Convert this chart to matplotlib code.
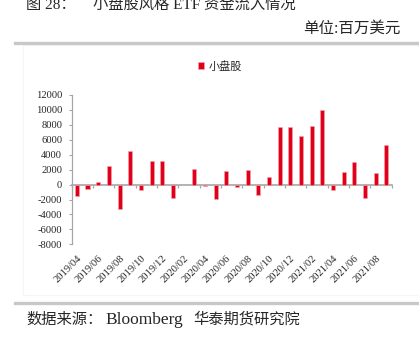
import matplotlib
matplotlib.use("Agg")
import matplotlib.pyplot as plt
from matplotlib.patches import Rectangle
from matplotlib.lines import Line2D

# ---- data ----
months = ["2019/04", "2019/05", "2019/06", "2019/07", "2019/08", "2019/09",
          "2019/10", "2019/11", "2019/12", "2020/01", "2020/02", "2020/03",
          "2020/04", "2020/05", "2020/06", "2020/07", "2020/08", "2020/09",
          "2020/10", "2020/11", "2020/12", "2021/01", "2021/02", "2021/03",
          "2021/04", "2021/05", "2021/06", "2021/07", "2021/08", "2021/09"]
small_cap = [-1470, -580, 400, 2540, -3260, 4550, -760, 3170, 3170, -1740,
             -50, 2100, -180, -1920, 1790, -330, 2010, -1430, 1070, 7770,
             7770, 6560, 7900, 10040, -710, 1650, 3080, -1790, 1560, 5310]
series_name = "小盘股"
y_ticks = [-8000, -6000, -4000, -2000, 0, 2000, 4000, 6000, 8000, 10000, 12000]
title_no = "图 28："
title = "小盘股风格 ETF 资金流入情况"
unit = "单位:百万美元"
source_a = "数据来源："
source_b = "Bloomberg"
source_c = "华泰期货研究院"

plt.rcParams["axes.unicode_minus"] = False
W, H = 419, 337
fig = plt.figure(figsize=(W / 100, H / 100), dpi=100)

SERIF = ["Liberation Serif", "Noto Sans CJK SC"]
CJK = ["Noto Sans CJK SC", "Liberation Serif"]
RED = "#E0001A"
GRAY = "#A6A6A6"
TXT = "#262626"

def fx(x):
    return x / W

def fy(y):
    return 1 - y / H

# decorations: separator lines and faint chart frame
fig.add_artist(Line2D([fx(15), fx(419)], [fy(43), fy(43)], color="#C8C8C8", lw=2.4))
fig.add_artist(Line2D([fx(15), fx(419)], [fy(303), fy(303)], color="#C8C8C8", lw=2.4))
fig.add_artist(Rectangle((fx(23), fy(295)), fx(396), fy(45) - fy(295),
                         facecolor="none", edgecolor="#F5F5F5", lw=0.8))

fig.text(fx(26), fy(9), title_no, family=SERIF, fontsize=11, color=TXT, va="baseline", ha="left")
fig.text(fx(93), fy(9), title, family=SERIF, fontsize=11, color=TXT, va="baseline", ha="left")
fig.text(fx(401), fy(29), unit, family=SERIF, fontsize=11.2, color=TXT, va="center", ha="right")
fig.text(fx(26), fy(319), source_a, family=CJK, fontsize=11, color=TXT, va="center", ha="left")
fig.text(fx(105), fy(319.5), source_b, family=SERIF, fontsize=12.5, color=TXT, va="center", ha="left")
fig.text(fx(193), fy(319), source_c, family=CJK, fontsize=11, color=TXT, va="center", ha="left")

ax = fig.add_axes([fx(71.5), fy(244.3), fx(391.7 - 71.5), fy(95) - fy(244.3)])
x = list(range(len(months)))
ax.bar(x, small_cap, width=0.38, color=RED, edgecolor="#F3A6AE", linewidth=0.4,
       label=series_name, zorder=3)

ax.set_xlim(-0.5, len(months) - 0.5)
ax.set_ylim(y_ticks[0], y_ticks[-1])
for s in ["top", "right"]:
    ax.spines[s].set_visible(False)
ax.spines["left"].set_color(GRAY)
ax.spines["left"].set_linewidth(0.9)
ax.spines["bottom"].set_position(("data", 0))
ax.spines["bottom"].set_color(GRAY)
ax.spines["bottom"].set_linewidth(1.2)
ax.spines["bottom"].set_zorder(2)

ax.set_yticks(y_ticks)
ax.set_yticklabels([str(v) for v in y_ticks], family=SERIF, fontsize=7.6, color=TXT)
ax.tick_params(axis="y", direction="out", length=2.2, width=0.8, color=GRAY, pad=4.5)

bounds = [i - 0.5 for i in range(0, len(months) + 1, 2)]
ax.set_xticks(bounds)
ax.set_xticklabels([""] * len(bounds))
ax.tick_params(axis="x", direction="out", length=2.4, width=0.9, color=GRAY)

sec = ax.secondary_xaxis(0)
label_pos = list(range(0, len(months), 2))
sec.set_xticks(label_pos)
sec.set_xticklabels([months[i] for i in label_pos], family=SERIF, fontsize=7.6, color=TXT,
                    rotation=45, ha="right", va="top", rotation_mode="anchor")
sec.tick_params(axis="x", length=0, pad=7)
sec.spines["bottom"].set_visible(False)

ax.legend(loc="center", bbox_to_anchor=(fx(220), fy(66)), bbox_transform=fig.transFigure,
          frameon=False, handlelength=0.55, handleheight=0.55, handletextpad=0.4,
          prop={"family": CJK, "size": 8}, labelcolor=TXT)

fig.savefig("out.png", dpi=100)
